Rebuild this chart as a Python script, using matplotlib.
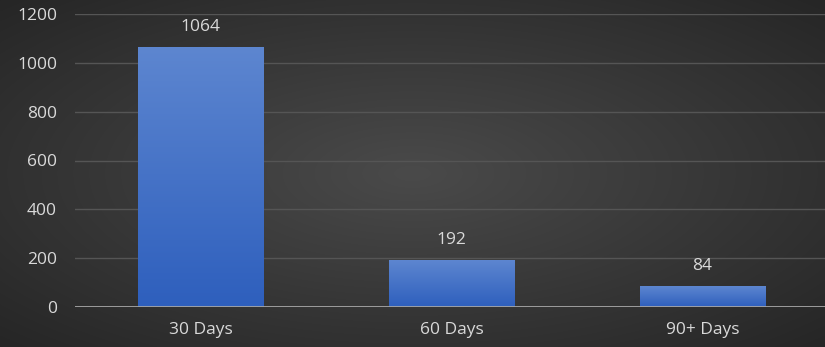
import matplotlib.pyplot as plt
import numpy as np
from matplotlib.colors import LinearSegmentedColormap

categories = ["30 Days", "60 Days", "90+ Days"]
counts = [1064, 192, 84]

plt.rcParams['font.family'] = ['Open Sans', 'DejaVu Sans']

fig = plt.figure(figsize=(8.25, 3.47), dpi=100)

# radial background
bg = fig.add_axes([0, 0, 1, 1])
yy, xx = np.mgrid[-1:1:347j, -1:1:825j]
r = np.sqrt(xx**2 + yy**2) / np.sqrt(2)
bg_cmap = LinearSegmentedColormap.from_list("bg", ["#4a4a4a", "#262626"])
bg.imshow(r, cmap=bg_cmap, aspect="auto", extent=[0, 1, 0, 1])
bg.axis("off")

ax = fig.add_axes([75 / 825, 40 / 347, 750 / 825, 293 / 347])
ax.patch.set_alpha(0)
x = np.arange(len(categories))
bars = ax.bar(x, counts, width=0.5, color="#4472c4", zorder=2)

bar_cmap = LinearSegmentedColormap.from_list("bar", ["#2e5fbd", "#5d86d0"])
grad = np.linspace(0, 1, 256).reshape(-1, 1)
for b in bars:
    x0 = b.get_x()
    im = ax.imshow(grad, cmap=bar_cmap, aspect="auto", origin="lower",
                   extent=[x0, x0 + b.get_width(), 0, b.get_height()], zorder=3)
    im.set_clip_path(b)

for xi, v in zip(x, counts):
    ax.annotate(str(v), (xi, v), xytext=(0, 9), textcoords="offset points",
                ha="center", va="bottom", color="#d9d9d9", fontsize=12.5)

ax.set_xlim(-0.5, -0.5 + 750 / 251)
ax.set_ylim(0, 1200)
ax.set_yticks(range(0, 1201, 200))
ax.set_xticks(x)
ax.set_xticklabels(categories)
ax.grid(axis="y", color="#555555", linewidth=1, zorder=0)
ax.axhline(0, color="#a6a6a6", linewidth=2, zorder=4)
for s in ax.spines.values():
    s.set_visible(False)
ax.tick_params(axis="both", length=0, colors="#d9d9d9", labelsize=12.5)
ax.tick_params(axis="x", pad=11)
ax.tick_params(axis="y", pad=13)

fig.savefig("out.png", dpi=100)
